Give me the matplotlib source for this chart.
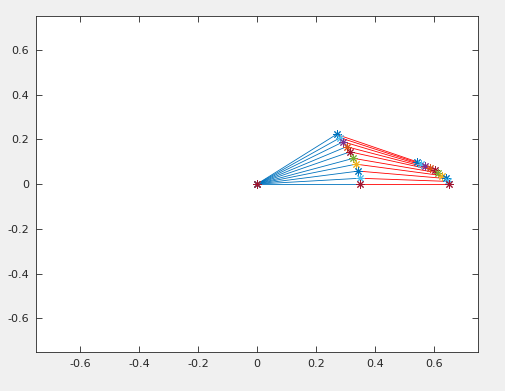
import matplotlib
matplotlib.use("Agg")
import matplotlib.pyplot as plt
from matplotlib.ticker import FuncFormatter

# joint (elbow) positions, top to bottom
joint_x = [0.270, 0.282, 0.293, 0.304, 0.316, 0.327, 0.336, 0.344, 0.349, 0.350]
joint_y = [0.222, 0.207, 0.189, 0.167, 0.144, 0.115, 0.089, 0.058, 0.026, 0.000]

# end effector positions
end_x = [0.542, 0.556, 0.571, 0.588, 0.603, 0.615, 0.627, 0.640, 0.648, 0.650]
end_y = [0.100, 0.090, 0.080, 0.070, 0.061, 0.050, 0.038, 0.025, 0.012, 0.000]

ticks = [-0.6, -0.4, -0.2, 0, 0.2, 0.4, 0.6]

# matlab default colour order
mblue = (0, 0.447, 0.741)
morange = (0.850, 0.325, 0.098)
myellow = (0.929, 0.694, 0.125)
mpurple = (0.494, 0.184, 0.556)
mgreen = (0.466, 0.674, 0.188)
mlblue = (0.301, 0.745, 0.933)
mdred = (0.635, 0.078, 0.184)
marker_colors = [mblue, mlblue, mpurple, morange, mdred, mgreen, myellow, mblue, mlblue, mdred]

fig = plt.figure(figsize=(5.06, 3.91), dpi=100, facecolor=(0.94, 0.94, 0.94))
ax = fig.add_axes([0.0711, 0.0997, 0.8735, 0.859])

star = (8, 2, 0)
for i in range(len(joint_x)):
    ax.plot([0, joint_x[i]], [0, joint_y[i]], color=mblue, lw=0.6)
    ax.plot([joint_x[i], end_x[i]], [joint_y[i], end_y[i]], color="r", lw=0.6)
for i in range(len(joint_x)):
    ax.plot([0, joint_x[i], end_x[i]], [0, joint_y[i], end_y[i]], ls="none",
            marker=star, ms=6, mew=0.7, color=marker_colors[i])

ax.set_xlim(-0.75, 0.75)
ax.set_ylim(-0.75, 0.75)
ax.set_xticks(ticks)
ax.set_yticks(ticks)
fmt = FuncFormatter(lambda v, p: "%g" % round(v, 2))
ax.xaxis.set_major_formatter(fmt)
ax.yaxis.set_major_formatter(fmt)

dark = (0.15, 0.15, 0.15)
ax.tick_params(direction="in", length=4, width=0.6, top=True, right=True,
               labelsize=8, colors=dark, pad=5)
for s in ax.spines.values():
    s.set_color(dark)
    s.set_linewidth(0.6)

fig.savefig("out.png", dpi=100, facecolor=fig.get_facecolor())
